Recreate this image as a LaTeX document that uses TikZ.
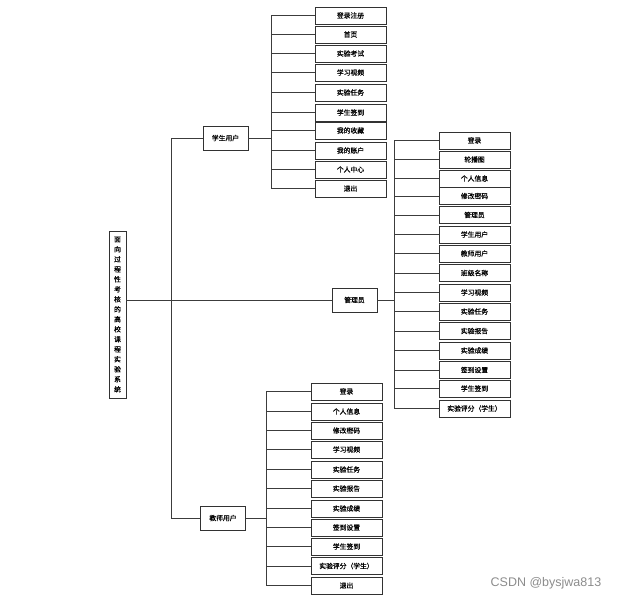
\documentclass[tikz,border=0pt]{standalone}
\usepackage{fontspec}
\usepackage{tikz}
\usetikzlibrary{positioning, calc}
\newfontfamily\cjk[FakeBold=0.6]{Noto Sans CJK SC}
\newfontfamily\marksans{Liberation Sans}
\definecolor{boxline}{RGB}{50,50,50}
\definecolor{linkline}{RGB}{60,60,60}
\definecolor{markgray}{RGB}{140,140,140}

\begin{document}
\begin{tikzpicture}[
    x=1pt, y=-1pt,
    rootbox/.style={draw=boxline, line width=0.9pt, minimum width=17pt, minimum height=167pt, inner sep=1pt, font=\cjk\fontsize{6.8}{10}\selectfont, align=center},
    rolebox/.style={draw=boxline, line width=0.9pt, minimum width=45pt, minimum height=24pt, inner sep=1pt, font=\cjk\fontsize{6.8}{8}\selectfont},
    leafbox/.style={draw=boxline, line width=0.9pt, minimum width=71pt, minimum height=17pt, inner sep=1pt, font=\cjk\fontsize{6.8}{8}\selectfont},
    link/.style={linkline, line width=0.7pt}
]
    \useasboundingbox (0,0) rectangle (625,600);

    % root and roles
    \node[rootbox] (root) at (117.5,314.5) {面\\向\\过\\程\\性\\考\\核\\的\\高\\校\\课\\程\\实\\验\\系\\统};
    \node[rolebox] (stu) at (225.5,138) {学生用户};
    \node[rolebox] (adm) at (354.5,300) {管理员};
    \node[rolebox] (tea) at (223,518) {教师用户};

    % bus lines
    \coordinate (mbus) at (171,0);
    \coordinate (sbus) at (271,0);
    \coordinate (abus) at (394,0);
    \coordinate (tbus) at (266,0);

    % student side
    \node[leafbox] (s1) at (350.5,15.5) {登录注册};
    \node[leafbox] (s2) at (350.5,34.5) {首页};
    \node[leafbox] (s3) at (350.5,53.5) {实验考试};
    \node[leafbox] (s4) at (350.5,72.5) {学习视频};
    \node[leafbox] (s5) at (350.5,92.5) {实验任务};
    \node[leafbox] (s6) at (350.5,112.5) {学生签到};
    \node[leafbox] (s7) at (350.5,130.5) {我的收藏};
    \node[leafbox] (s8) at (350.5,150.5) {我的账户};
    \node[leafbox] (s9) at (350.5,169.5) {个人中心};
    \node[leafbox] (s10) at (350.5,188.5) {退出};

    % admin side
    \node[leafbox] (a1) at (474.5,140.5) {登录};
    \node[leafbox] (a2) at (474.5,159.5) {轮播图};
    \node[leafbox] (a3) at (474.5,178.5) {个人信息};
    \node[leafbox] (a4) at (474.5,196) {修改密码};
    \node[leafbox] (a5) at (474.5,215) {管理员};
    \node[leafbox] (a6) at (474.5,234.5) {学生用户};
    \node[leafbox] (a7) at (474.5,253.5) {教师用户};
    \node[leafbox] (a8) at (474.5,273) {班级名称};
    \node[leafbox] (a9) at (474.5,292.5) {学习视频};
    \node[leafbox] (a10) at (474.5,311.5) {实验任务};
    \node[leafbox] (a11) at (474.5,331) {实验报告};
    \node[leafbox] (a12) at (474.5,350.5) {实验成绩};
    \node[leafbox] (a13) at (474.5,370) {签到设置};
    \node[leafbox] (a14) at (474.5,388.5) {学生签到};
    \node[leafbox] (a15) at (474.5,408.5) {实验评分（学生）};

    % teacher side
    \node[leafbox] (t1) at (346.5,391.5) {登录};
    \node[leafbox] (t2) at (346.5,411.5) {个人信息};
    \node[leafbox] (t3) at (346.5,430.5) {修改密码};
    \node[leafbox] (t4) at (346.5,449.5) {学习视频};
    \node[leafbox] (t5) at (346.5,469.5) {实验任务};
    \node[leafbox] (t6) at (346.5,488.5) {实验报告};
    \node[leafbox] (t7) at (346.5,508.5) {实验成绩};
    \node[leafbox] (t8) at (346.5,527.5) {签到设置};
    \node[leafbox] (t9) at (346.5,546.5) {学生签到};
    \node[leafbox] (t10) at (346.5,566) {实验评分（学生）};
    \node[leafbox] (t11) at (346.5,585.5) {退出};

    % root to roles
    \draw[link] (root.east |- adm) -- (adm);
    \draw[link] (mbus |- stu) -- (mbus |- tea);
    \draw[link] (mbus |- stu) -- (stu);
    \draw[link] (mbus |- tea) -- (tea);

    % student links
    \draw[link] (stu) -- (sbus |- stu);
    \draw[link] (sbus |- s1) -- (sbus |- s10);
    \draw[link] (sbus |- s1) -- (s1);
    \draw[link] (sbus |- s2) -- (s2);
    \draw[link] (sbus |- s3) -- (s3);
    \draw[link] (sbus |- s4) -- (s4);
    \draw[link] (sbus |- s5) -- (s5);
    \draw[link] (sbus |- s6) -- (s6);
    \draw[link] (sbus |- s7) -- (s7);
    \draw[link] (sbus |- s8) -- (s8);
    \draw[link] (sbus |- s9) -- (s9);
    \draw[link] (sbus |- s10) -- (s10);

    % admin links
    \draw[link] (adm) -- (abus |- adm);
    \draw[link] (abus |- a1) -- (abus |- a15);
    \draw[link] (abus |- a1) -- (a1);
    \draw[link] (abus |- a2) -- (a2);
    \draw[link] (abus |- a3) -- (a3);
    \draw[link] (abus |- a4) -- (a4);
    \draw[link] (abus |- a5) -- (a5);
    \draw[link] (abus |- a6) -- (a6);
    \draw[link] (abus |- a7) -- (a7);
    \draw[link] (abus |- a8) -- (a8);
    \draw[link] (abus |- a9) -- (a9);
    \draw[link] (abus |- a10) -- (a10);
    \draw[link] (abus |- a11) -- (a11);
    \draw[link] (abus |- a12) -- (a12);
    \draw[link] (abus |- a13) -- (a13);
    \draw[link] (abus |- a14) -- (a14);
    \draw[link] (abus |- a15) -- (a15);

    % teacher links
    \draw[link] (tea) -- (tbus |- tea);
    \draw[link] (tbus |- t1) -- (tbus |- t11);
    \draw[link] (tbus |- t1) -- (t1);
    \draw[link] (tbus |- t2) -- (t2);
    \draw[link] (tbus |- t3) -- (t3);
    \draw[link] (tbus |- t4) -- (t4);
    \draw[link] (tbus |- t5) -- (t5);
    \draw[link] (tbus |- t6) -- (t6);
    \draw[link] (tbus |- t7) -- (t7);
    \draw[link] (tbus |- t8) -- (t8);
    \draw[link] (tbus |- t9) -- (t9);
    \draw[link] (tbus |- t10) -- (t10);
    \draw[link] (tbus |- t11) -- (t11);

    % watermark
    \node[font=\marksans\fontsize{12.5}{14}\selectfont, text=markgray] (mark) at (546,583) {CSDN @bysjwa813};
\end{tikzpicture}
\end{document}
